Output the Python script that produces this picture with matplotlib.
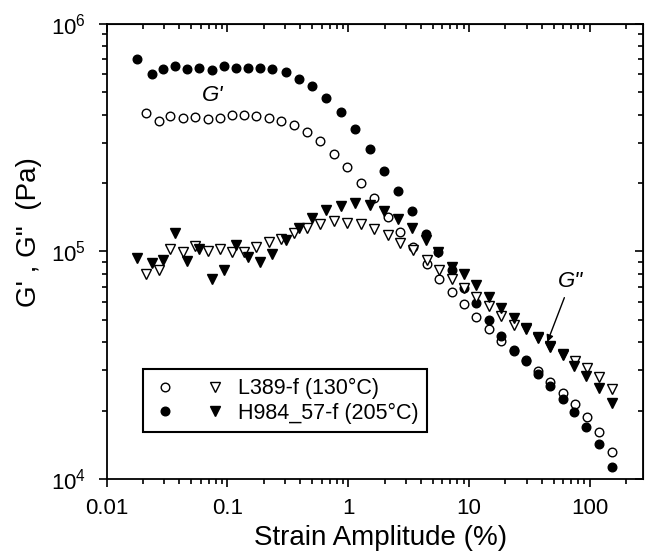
import matplotlib
matplotlib.use("Agg")
import matplotlib.pyplot as plt
from matplotlib.legend_handler import HandlerTuple
from matplotlib.ticker import LogLocator, NullFormatter

plt.rcParams["font.family"] = ["Liberation Sans", "DejaVu Sans"]
plt.rcParams["mathtext.fontset"] = "custom"
plt.rcParams["mathtext.rm"] = "Liberation Sans"

# strain amplitude (%) for each sample
strain_L389 = [0.0211, 0.0272, 0.0337, 0.043, 0.054, 0.0687, 0.0863, 0.108, 0.136,
               0.173, 0.220, 0.277, 0.352, 0.454, 0.585, 0.763, 0.97, 1.27, 1.63,
               2.13, 2.69, 3.40, 4.44, 5.65, 7.2, 9.1, 11.4, 14.6, 18.4, 23.5, 29.5,
               37.3, 46.7, 59.7, 75, 94, 119, 151]
strain_H984 = [0.0177, 0.0237, 0.0293, 0.0369, 0.0463, 0.0582, 0.075, 0.093, 0.117,
               0.149, 0.187, 0.235, 0.303, 0.389, 0.502, 0.656, 0.871, 1.13, 1.50,
               1.96, 2.58, 3.34, 4.36, 5.5, 7.2, 9.1, 11.4, 14.6, 18.4, 23.6, 29.6,
               37.2, 46.6, 59.5, 74.5, 93.5, 118.5, 151]

# storage modulus G' (Pa)
gp_L389 = [4.08e5, 3.76e5, 3.94e5, 3.87e5, 3.89e5, 3.81e5, 3.87e5, 3.97e5, 3.99e5,
           3.93e5, 3.87e5, 3.76e5, 3.60e5, 3.36e5, 3.05e5, 2.68e5, 2.34e5, 2.01e5,
           1.71e5, 1.42e5, 1.22e5, 1.05e5, 8.8e4, 7.55e4, 6.62e4, 5.86e4, 5.17e4,
           4.55e4, 4.05e4, 3.66e4, 3.32e4, 2.99e4, 2.68e4, 2.40e4, 2.14e4, 1.87e4,
           1.61e4, 1.31e4]
gp_H984 = [7.0e5, 6.0e5, 6.32e5, 6.52e5, 6.34e5, 6.38e5, 6.28e5, 6.52e5, 6.43e5,
           6.41e5, 6.43e5, 6.37e5, 6.14e5, 5.75e5, 5.33e5, 4.73e5, 4.12e5, 3.45e5,
           2.81e5, 2.26e5, 1.85e5, 1.50e5, 1.19e5, 9.98e4, 8.3e4, 6.9e4, 5.92e4,
           5.0e4, 4.27e4, 3.69e4, 3.30e4, 2.90e4, 2.57e4, 2.24e4, 1.98e4, 1.70e4,
           1.43e4, 1.13e4]

# loss modulus G'' (Pa)
gpp_L389 = [7.96e4, 8.3e4, 1.023e5, 9.92e4, 1.06e5, 1.004e5, 1.03e5, 9.92e4, 9.98e4,
            1.05e5, 1.10e5, 1.14e5, 1.21e5, 1.265e5, 1.32e5, 1.36e5, 1.34e5, 1.32e5,
            1.256e5, 1.18e5, 1.09e5, 1.02e5, 9.2e4, 8.3e4, 7.55e4, 6.89e4, 6.33e4,
            5.76e4, 5.2e4, 4.75e4, 4.55e4, 4.2e4, 3.85e4, 3.55e4, 3.31e4, 3.07e4,
            2.82e4, 2.49e4]
gpp_H984 = [9.33e4, 8.87e4, 9.18e4, 1.21e5, 9.08e4, 1.025e5, 7.55e4, 8.3e4, 1.07e5,
            9.48e4, 9.02e4, 9.73e4, 1.125e5, 1.265e5, 1.40e5, 1.52e5, 1.59e5, 1.63e5,
            1.60e5, 1.51e5, 1.39e5, 1.265e5, 1.125e5, 9.98e4, 8.57e4, 7.96e4, 7.13e4,
            6.32e4, 5.62e4, 5.08e4, 4.59e4, 4.15e4, 3.79e4, 3.51e4, 3.14e4, 2.84e4,
            2.52e4, 2.15e4]

labels = ["L389-f (130°C)", "H984_57-f (205°C)"]

fig = plt.figure(figsize=(6.45, 5.59), dpi=100)
ax = fig.add_axes([0.1654, 0.1431, 0.8315, 0.8140])

ms_c = 6.2
ms_t = 7.2
oc, = ax.plot(strain_L389, gp_L389, "o", ls="none", ms=ms_c, mfc="white", mec="black", mew=1.0)
fc, = ax.plot(strain_H984, gp_H984, "o", ls="none", ms=ms_c, mfc="black", mec="black", mew=1.0)
ot, = ax.plot(strain_L389, gpp_L389, "v", ls="none", ms=ms_t, mfc="white", mec="black", mew=1.0)
ft, = ax.plot(strain_H984, gpp_H984, "v", ls="none", ms=ms_t, mfc="black", mec="black", mew=1.0)

ax.set_xscale("log")
ax.set_yscale("log")
ax.set_xlim(0.01, 275)
ax.set_ylim(1e4, 1e6)

ax.xaxis.set_major_locator(LogLocator(base=10, numticks=10))
ax.xaxis.set_minor_locator(LogLocator(base=10, subs=range(2, 10), numticks=20))
ax.xaxis.set_minor_formatter(NullFormatter())
ax.xaxis.set_major_formatter(plt.FuncFormatter(lambda v, p: f"{v:g}"))
ax.yaxis.set_minor_locator(LogLocator(base=10, subs=range(2, 10), numticks=20))
ax.yaxis.set_minor_formatter(NullFormatter())

ax.tick_params(which="both", direction="out", top=False, right=False, width=1.2,
               labelsize=16)
ax.tick_params(which="major", length=6)
ax.tick_params(which="minor", length=3.5)
ax.tick_params(axis="x", pad=7.5)
ax.tick_params(axis="y", pad=9)
for s in ax.spines.values():
    s.set_linewidth(1.3)

# inward ticks along the top and right edges
top = ax.secondary_xaxis("top")
top.xaxis.set_minor_locator(LogLocator(base=10, subs=range(2, 10), numticks=20))
top.tick_params(which="both", direction="in", labeltop=False, width=1.2)
top.tick_params(which="major", length=6)
top.tick_params(which="minor", length=3.5)
top.xaxis.set_minor_formatter(NullFormatter())
right = ax.secondary_yaxis("right")
right.yaxis.set_minor_locator(LogLocator(base=10, subs=range(2, 10), numticks=20))
right.tick_params(which="both", direction="in", labelright=False, width=1.2)
right.tick_params(which="major", length=6)
right.tick_params(which="minor", length=3.5)
right.yaxis.set_minor_formatter(NullFormatter())

ax.set_xlabel("Strain Amplitude (%)", fontsize=20)
ax.set_ylabel("G' , G\"  (Pa)", fontsize=20)
ax.xaxis.set_label_coords(0.51, -0.10)
ax.yaxis.set_label_coords(-0.12, 0.543)

ax.text(0.0755, 4.87e5, "G'", fontsize=16, fontstyle="italic", ha="center", va="center")
ax.annotate('G"', xy=(44.4, 4.0e4), xytext=(69, 7.36e4), fontsize=16,
            fontstyle="italic", ha="center", va="center",
            arrowprops=dict(arrowstyle="-|>", color="black", lw=1.0,
                            mutation_scale=10, shrinkA=2, shrinkB=0))

leg = ax.legend([(oc, ot), (fc, ft)], labels,
                handler_map={tuple: HandlerTuple(ndivide=None, pad=1.07)},
                loc="lower left", bbox_to_anchor=(0.067, 0.103), borderaxespad=0,
                fontsize=15.5, handlelength=3.58, handletextpad=0.44,
                labelspacing=0.15, borderpad=0.4, fancybox=False, framealpha=1,
                edgecolor="black")
leg.get_frame().set_linewidth(1.5)

fig.savefig("out.png", dpi=100)
